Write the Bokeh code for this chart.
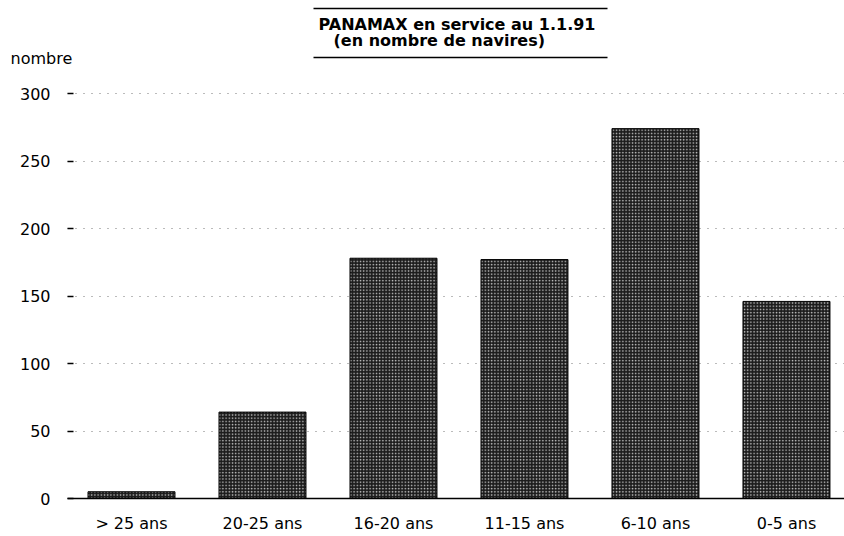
from bokeh.plotting import figure
from bokeh.models import Range1d, FixedTicker, LinearAxis, Title, ColumnDataSource
from bokeh.embed import file_html
from bokeh.resources import INLINE

categories = ["> 25 ans", "20-25 ans", "16-20 ans", "11-15 ans", "6-10 ans", "0-5 ans"]
values = [5, 64, 178, 177, 274, 146]
y_ticks = [0, 50, 100, 150, 200, 250, 300]
title_line1 = "PANAMAX en service au 1.1.91"
title_line2 = "(en nombre de navires)"
y_title = "nombre"

FONT = "DejaVu Sans"

positions = [i + 0.5 for i in range(len(categories))]
src = ColumnDataSource(dict(x=positions, top=values, cat=categories))

p = figure(width=844, height=536, output_backend="svg", toolbar_location=None,
           x_range=Range1d(0.0115, 5.943), y_range=Range1d(0, 326.7),
           min_border_left=67, min_border_right=0, min_border_top=57, min_border_bottom=38)
p.title.visible = False
p.outline_line_color = None
p.background_fill_color = "white"
p.border_fill_color = "white"

p.vbar(x="x", top="top", width=0.664, bottom=0, source=src,
       fill_color="#1c1c1c", line_color="#000000", line_width=1,
       hatch_pattern="dot", hatch_color="white", hatch_scale=3.2, hatch_weight=1.0, hatch_alpha=0.75)

# x axis
xa = p.xaxis[0]
xa.ticker = FixedTicker(ticks=positions)
xa.major_label_overrides = {pos: c for pos, c in zip(positions, categories)}
xa.major_tick_line_color = None
xa.major_tick_out = 0
xa.major_tick_in = 0
xa.minor_tick_line_color = None
xa.minor_tick_out = 0
xa.axis_line_color = "black"
xa.axis_line_width = 1.5
xa.major_label_standoff = 15
xa.major_label_text_font = FONT
xa.major_label_text_font_size = "16px"
xa.major_label_text_color = "black"

# y axis
ya = p.yaxis[0]
ya.ticker = FixedTicker(ticks=y_ticks)
ya.axis_line_color = None
ya.major_tick_in = 6
ya.major_tick_out = 0
ya.major_tick_line_color = "black"
ya.major_tick_line_width = 1.5
ya.minor_tick_line_color = None
ya.minor_tick_out = 0
ya.major_label_standoff = 17
ya.major_label_text_font = FONT
ya.major_label_text_font_size = "16px"
ya.major_label_text_color = "black"

p.xgrid.grid_line_color = None
p.ygrid.ticker = FixedTicker(ticks=y_ticks[1:])
p.ygrid.grid_line_color = "#777777"
p.ygrid.grid_line_dash = "1 7"
p.ygrid.grid_line_width = 1


def rule_axis():
    ax = LinearAxis(bounds=(1.889, 4.134), ticker=FixedTicker(ticks=[]))
    ax.major_tick_in = 0
    ax.major_tick_out = 0
    ax.minor_tick_in = 0
    ax.minor_tick_out = 0
    ax.major_tick_line_color = None
    ax.minor_tick_line_color = None
    ax.axis_line_color = "black"
    ax.axis_line_width = 1.5
    ax.major_label_text_font_size = "0px"
    ax.major_label_standoff = 0
    return ax


def make_title(text, offset, standoff, style="bold"):
    try:
        t = Title(text=text, align="left", offset=offset, standoff=standoff)
    except Exception:
        t = Title(text=text, align="left", offset=offset, standoff=0)
    t.text_font = FONT
    t.text_font_size = "16px"
    t.text_font_style = style
    t.text_color = "black"
    return t


# stacked from the frame upwards
p.add_layout(rule_axis(), "above")
p.add_layout(make_title(y_title, -57, -20, "normal"), "above")
p.add_layout(make_title(" ", 0, -14), "above")          # spacer
p.add_layout(make_title(title_line2, 266, 0), "above")
p.add_layout(make_title(title_line1, 251, -10), "above")
p.add_layout(make_title(" ", 0, -12), "above")          # spacer
p.add_layout(rule_axis(), "above")

open("out.html", "w").write(file_html(p, INLINE))
